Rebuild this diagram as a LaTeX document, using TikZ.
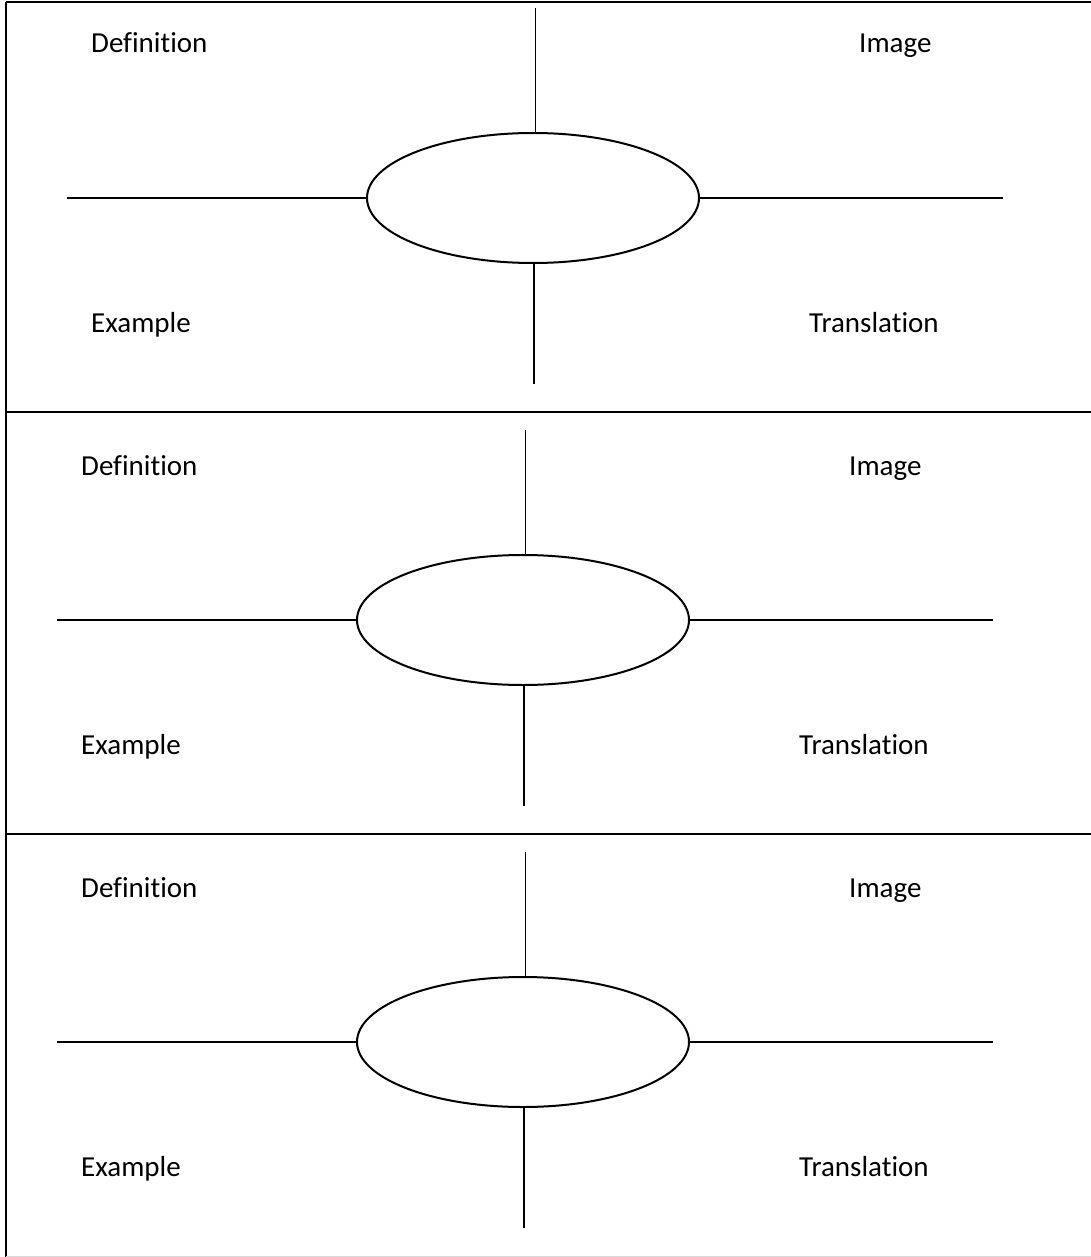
\documentclass[tikz,border=0pt]{standalone}
\usepackage{fontspec}
\setmainfont[Ligatures=NoCommon]{Carlito}
\usetikzlibrary{shapes.geometric}
\begin{document}
\begin{tikzpicture}[x=1pt,y=-1pt,
  frame/.style={line width=2.6pt,black},
  spoke/.style={line width=1.6pt,black},
  oval/.style={ellipse,draw,line width=2pt,minimum width=332pt,minimum height=130pt,inner sep=0pt},
  lbl/.style={anchor=base west,inner sep=0pt,font=\fontsize{29}{31}\selectfont}]
\useasboundingbox (0,0) rectangle (1090,1257);
% frame
\coordinate (tl) at (6,2);
\coordinate (tr) at (1092,2);
\coordinate (bl) at (6,1257);
\coordinate (d1l) at (6,412);
\coordinate (d1r) at (1092,412);
\coordinate (d2l) at (6,834);
\coordinate (d2r) at (1092,834);
\coordinate (bbl) at (6,1256);
\coordinate (bbr) at (1092,1256);
\draw[frame] (tl) -- (tr);
\draw[frame] (tl) -- (bl);
\draw[frame] (d1l) -- (d1r);
\draw[frame] (d2l) -- (d2r);
\draw[line width=0.8pt,black!15] (bbl) -- (bbr);
% panels
\foreach \i/\dx/\dy in {1/10/0, 2/0/422, 3/0/844}{
  \node[oval] (e\i) at (523+\dx,198+\dy) {};
  \coordinate (l\i) at (57+\dx,198+\dy);
  \coordinate (r\i) at (993+\dx,198+\dy);
  \coordinate (t\i) at (525.5+\dx,8+\dy);
  \coordinate (b\i) at (524+\dx,384+\dy);
  \draw[spoke] (l\i) -- (e\i.west);
  \draw[spoke] (e\i.east) -- (r\i);
  \draw[spoke] (t\i) -- (t\i |- e\i.north);
  \draw[spoke] (b\i |- e\i.south) -- (b\i);
  \node[lbl] (def\i) at (81+\dx,53+\dy) {Definition};
  \node[lbl] (img\i) at (849+\dx,53+\dy) {Image};
  \node[lbl] (ex\i) at (81+\dx,332+\dy) {Example};
  \node[lbl] (tr\i) at (799+\dx,332+\dy) {Translation};
}
\end{tikzpicture}
\end{document}
